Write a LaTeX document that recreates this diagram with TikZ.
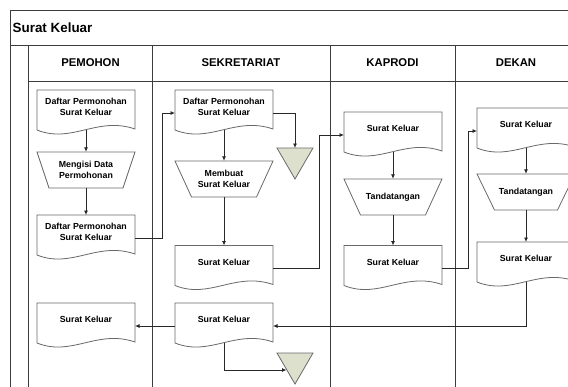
\documentclass[tikz,border=0pt]{standalone}
\usepackage{fontspec}
\setmainfont{Liberation Sans}
\usetikzlibrary{arrows.meta}
\definecolor{framecol}{RGB}{60,60,60}
\definecolor{shpcol}{RGB}{105,105,105}
\definecolor{tricol}{RGB}{221,224,205}
\definecolor{linecol}{RGB}{40,40,40}
\tikzset{
  frm/.style={draw=framecol, line width=0.9pt},
  shp/.style={draw=shpcol, line width=0.8pt, fill=white},
  conn/.style={draw=linecol, line width=0.8pt, -{Latex[length=4.5pt,width=4pt]}},
  doctext/.style={align=center, inner sep=0pt, font=\bfseries\fontsize{8.8}{11}\selectfont},
  headtext/.style={inner sep=0pt, font=\bfseries\fontsize{11.3}{13}\selectfont},
}
\newcommand\docnode[4]{%
  \draw[shp] (#2,#3) -- (#2,#3+40) .. controls (#2+35,#3+54) and (#2+60,#3+26) .. (#2+98,#3+39) -- (#2+98,#3) -- cycle;
  \node[doctext] (#1) at (#2+49,#3+16.5) {#4};
  \coordinate (#1-b) at (#2+49,#3+40);
  \coordinate (#1-e) at (#2+98,#3+23);
  \coordinate (#1-w) at (#2,#3+23);
}
\newcommand\manop[5]{%
  \draw[shp] (#2-49,#3-18) -- (#2+49,#3-18) -- (#2+49-#4,#3+18) -- (#2-49+#4,#3+18) -- cycle;
  \node[doctext, minimum width=98pt, minimum height=36pt] (#1) at (#2,#3) {#5};
}
\newcommand\mergetri[3]{%
  \draw[shp, fill=tricol] (#2-18,#3) -- (#2+18,#3) -- (#2,#3+31) -- cycle;
  \coordinate (#1) at (#2,#3);
}
\begin{document}
\begin{tikzpicture}[x=1pt,y=-1pt]
\useasboundingbox (0,0) rectangle (568,386);
\clip (0,0) rectangle (568,386);
% frame
\draw[frm] (10,400) -- (10,10) -- (600,10);
\draw[frm] (10,45) -- (600,45);
\draw[frm] (28,45) -- (28,400);
\draw[frm] (28,81) -- (600,81);
\foreach \x in {152.5,330,455} \draw[frm] (\x,45) -- (\x,400);
\node[anchor=west, inner sep=0pt, font=\bfseries\fontsize{13.4}{15}\selectfont] (title) at (12.5,27.5) {Surat Keluar};
\node[headtext] (h1) at (90.5,63) {PEMOHON};
\node[headtext] (h2) at (241,63) {SEKRETARIAT};
\node[headtext] (h3) at (392.5,63) {KAPRODI};
\node[headtext] (h4) at (516,63) {DEKAN};
% shapes
\docnode{d1}{37}{90}{Daftar Permonohan\\Surat Keluar}
\manop{m1}{86}{170}{12}{Mengisi Data\\Permohonan}
\docnode{d3}{37}{215}{Daftar Permonohan\\Surat Keluar}
\docnode{d9}{37}{303}{Surat Keluar}
\docnode{d2}{175}{90}{Daftar Permonohan\\Surat Keluar}
\mergetri{t1}{295}{148}
\manop{m2}{224}{179}{16.5}{Membuat\\Surat Keluar}
\docnode{d4}{175}{245.5}{Surat Keluar}
\docnode{d10}{175}{303}{Surat Keluar}
\mergetri{t2}{295}{353}
\coordinate (t2in) at (286.5,370);
\docnode{d5}{344}{112}{Surat Keluar}
\manop{m3}{393}{197}{16.5}{Tandatangan}
\docnode{d6}{344}{245.5}{Surat Keluar}
\docnode{d7}{477}{108}{Surat Keluar}
\manop{m4}{526}{192}{17.5}{Tandatangan}
\docnode{d8}{477}{242}{Surat Keluar}
% connectors
\draw[conn] (d1-b) -- (m1.north);
\draw[conn] (m1.south) -- (d3.north |- 0,215);
\draw[conn] (d3-e) -- ++(27,0) |- (d2-w);
\draw[conn] (d2-e) -| (t1);
\draw[conn] (d2-b) -- (m2.north);
\draw[conn] (m2.south) -- (d4.north |- 0,245.5);
\draw[conn] (d4-e) -- ++(46.5,0) |- (d5-w);
\draw[conn] (d5-b) -- (m3.north);
\draw[conn] (m3.south) -- (d6.north |- 0,245.5);
\draw[conn] (d6-e) -- ++(26,0) |- (d7-w);
\draw[conn] (d7-b) -- (m4.north);
\draw[conn] (m4.south) -- (d8.north |- 0,242);
\draw[conn] (d8-b) |- (d10-e);
\draw[conn] (d10-w) -- (d9-e);
\draw[conn] (d10-b) |- (t2in);
\end{tikzpicture}
\end{document}
